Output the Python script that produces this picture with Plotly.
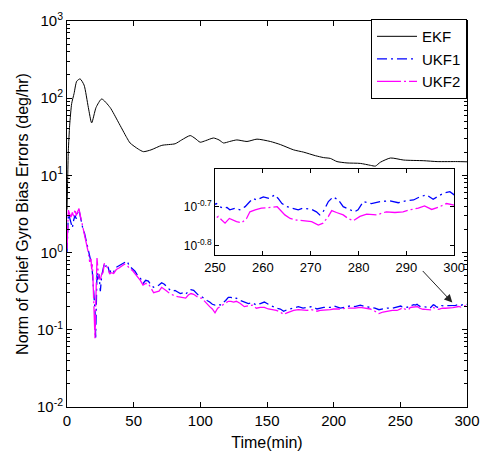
import plotly.graph_objects as go

# ---------------- data ----------------
ekf_t = [0, 0.5, 1, 2, 3.5, 5.3, 7.3, 9.8, 12.8, 16, 18.5, 21.8, 26, 32.3, 38.5, 44.8, 47.3,
         53.5, 57.3, 63, 71.1, 81.1, 86, 92.4, 96, 99.9, 104, 109.9, 114, 117.4, 122, 127.4,
         135, 142.5, 152.5, 160, 170, 177.5, 186.3, 192.5, 197.5, 202.5, 210, 220, 227.6,
         231.3, 235, 242.6, 252.6, 267.6, 277.6, 292.7, 300]
ekf_v = [3.6, 8.9, 20.9, 44.7, 85.1, 115, 166, 178, 148, 75.9, 47.9, 75.9, 97.7, 75.9, 49.0,
         30.9, 26.3, 21.9, 20.3, 21.4, 24.5, 25.7, 28.8, 32.8, 30.2, 26.9, 28.2, 30.5, 28.8,
         26.3, 27.5, 28.8, 27.5, 29.5, 27.5, 25.1, 21.4, 20.0, 18.0, 17.0, 16.6, 15.1, 14.5,
         14.3, 13.5, 13.2, 14.8, 16.8, 15.8, 15.5, 15.1, 15.1, 15.0]

ukf1_t = [0, 0.5, 1, 2, 3, 4, 5, 6, 7, 8, 9, 10, 11, 12, 13, 14, 15, 16, 17, 18, 19, 20, 21,
          21.5, 22, 22.5, 23, 24, 25, 26, 27, 28, 29, 30, 31, 32, 33, 35, 37, 39, 41, 43, 45,
          47, 49, 51, 53, 55, 57, 59, 61, 63, 65, 67, 69, 71, 73, 75, 77, 79, 81, 83, 85, 87,
          89, 91, 93, 95, 97, 99, 101, 103, 105, 107, 109, 111, 113, 115, 117, 119, 121, 123,
          125, 127, 130, 133, 136, 139, 142, 145, 148, 151, 154, 157, 160, 162.5, 165, 167.5,
          170, 173.5, 177, 180, 183.5, 187.5, 190, 192.5, 197.5, 200, 205, 210, 212.5, 216,
          220, 224, 227.5, 231, 234, 237, 240, 244, 247.5,
          250.3, 251, 251.7, 252.5, 253.1, 254.2, 255.2, 256.3, 257.3, 258, 258.7, 260.1,
          261.3, 262.5, 263.2, 264, 265, 266.4, 267.4, 268.4, 270.2, 271.2, 271.9, 272.6,
          273.7, 274.7, 275.8, 276.8, 278.2, 279.2, 279.9, 281, 282.7, 284.5, 286.5, 288.3,
          290, 291.5, 292.8, 294.2, 295.6, 297.7, 299.1, 300]
ukf1_v = [1.00, 2.24, 3.16, 2.82, 2.51, 2.09, 2.63, 3.02, 2.75, 3.31, 3.55, 2.82, 2.40, 2.00,
          1.82, 1.51, 1.32, 1.05, 0.832, 0.759, 0.562, 0.355, 0.178, 0.0794, 0.355, 0.562,
          0.447, 0.525, 0.316, 0.501, 0.603, 0.724, 0.661, 0.708, 0.631, 0.537, 0.603, 0.562,
          0.646, 0.676, 0.708, 0.759, 0.776, 0.661, 0.617, 0.575, 0.501, 0.468, 0.398, 0.437,
          0.427, 0.380, 0.355, 0.363, 0.380, 0.407, 0.389, 0.355, 0.331, 0.316, 0.324, 0.309,
          0.295, 0.302, 0.288, 0.316, 0.331, 0.324, 0.295, 0.275, 0.269, 0.251, 0.240, 0.229,
          0.214, 0.209, 0.214, 0.209, 0.221, 0.240, 0.263, 0.263, 0.251, 0.257, 0.240, 0.229,
          0.219, 0.224, 0.209, 0.219, 0.229, 0.214, 0.204, 0.1905, 0.186, 0.174, 0.182, 0.186,
          0.1905, 0.1995, 0.1905, 0.195, 0.1995, 0.186, 0.1905, 0.195, 0.195, 0.204, 0.1905,
          0.1995, 0.204, 0.1995, 0.209, 0.1995, 0.195, 0.1905, 0.182, 0.186, 0.1905, 0.1905,
          0.195,
          0.2032, 0.1995, 0.1977, 0.1986, 0.1959, 0.1977, 0.1959, 0.1995, 0.2056, 0.2094,
          0.2075, 0.2113, 0.2094, 0.2138, 0.2094, 0.2032, 0.1995, 0.1977, 0.1959, 0.1977,
          0.1963, 0.1936, 0.1901, 0.1936, 0.2056, 0.2113, 0.2075, 0.1995, 0.1959, 0.1936,
          0.1959, 0.2056, 0.2032, 0.2056, 0.2065, 0.2042, 0.2065, 0.2075, 0.2113, 0.2138,
          0.2084, 0.2158, 0.2178, 0.2138]

ukf2_t = [0, 0.5, 1, 2, 3, 4, 5, 6, 7, 8, 9, 10, 11, 12, 13, 14, 15, 16, 17, 18, 18.5, 19,
          19.5, 20, 20.5, 21, 21.5, 22, 22.5, 23, 24, 25, 26, 27, 28, 29, 30, 31, 32, 33, 35,
          37, 39, 41, 43, 45, 47, 49, 51, 53, 55, 57, 59, 61, 63, 65, 67, 69, 71, 73, 75, 77,
          79, 81, 83, 85, 87, 89, 91, 93, 95, 97, 99, 101, 103, 105, 107, 109, 111, 113, 115,
          117, 119, 121, 123, 125, 127, 130, 133, 136, 139, 142, 145, 148, 151, 154, 157, 160,
          162.5, 165, 167.5, 170, 173.5, 177, 180, 183.5, 187.5, 190, 192.5, 197.5, 200, 205,
          210, 212.5, 216, 220, 224, 227.5, 231, 234, 237, 240, 244, 247.5,
          250, 250.7, 251.4, 252.1, 253, 254.5, 255.6, 256.6, 257.3, 258.4, 259.7, 261.5, 263,
          264.6, 265.7, 267, 268.8, 270.2, 271.6, 272.6, 273.7, 274.4, 275.4, 276.8, 277.8,
          278.9, 280.3, 281.7, 283.8, 285.8, 287.6, 289.3, 290.7, 292.5, 293.8, 295.3, 296.6,
          298.4, 300]
ukf2_v = [1.12, 2.82, 3.55, 3.16, 2.88, 3.31, 2.95, 3.63, 3.02, 3.39, 3.72, 3.02, 2.51, 2.09,
          1.86, 1.59, 1.26, 1.00, 0.759, 0.832, 0.603, 0.708, 0.447, 0.282, 0.126, 0.0776,
          0.1995, 0.501, 0.851, 0.661, 0.468, 0.447, 0.525, 0.550, 0.724, 0.692, 0.661, 0.617,
          0.525, 0.550, 0.537, 0.603, 0.631, 0.676, 0.708, 0.692, 0.617, 0.589, 0.537, 0.479,
          0.437, 0.380, 0.398, 0.398, 0.339, 0.302, 0.309, 0.316, 0.355, 0.339, 0.316, 0.295,
          0.282, 0.275, 0.269, 0.263, 0.263, 0.257, 0.282, 0.295, 0.288, 0.269, 0.257, 0.257,
          0.234, 0.214, 0.1995, 0.186, 0.166, 0.1905, 0.1995, 0.209, 0.219, 0.234, 0.234,
          0.229, 0.234, 0.219, 0.1995, 0.204, 0.209, 0.1905, 0.195, 0.195, 0.186, 0.182, 0.178,
          0.170, 0.158, 0.166, 0.174, 0.178, 0.182, 0.178, 0.178, 0.182, 0.174, 0.178, 0.178,
          0.182, 0.186, 0.186, 0.1905, 0.1905, 0.1905, 0.195, 0.1905, 0.186, 0.174, 0.162,
          0.170, 0.174, 0.178, 0.178,
          0.1862, 0.1884, 0.1845, 0.1811, 0.1862, 0.1828, 0.1816, 0.1862, 0.1936, 0.1959,
          0.1977, 0.1986, 0.1995, 0.1901, 0.1862, 0.1845, 0.1837, 0.1828, 0.1791, 0.1811,
          0.1884, 0.1950, 0.1928, 0.1901, 0.1862, 0.1837, 0.1884, 0.1910, 0.1901, 0.1936,
          0.1928, 0.1936, 0.1959, 0.1977, 0.2004, 0.1963, 0.1986, 0.2032, 0.2014]

main_y_ticks = [0.01, 0.1, 1, 10, 100, 1000]
main_y_text = ["10<sup>-2</sup>", "10<sup>-1</sup>", "10<sup>0</sup>", "10<sup>1</sup>",
               "10<sup>2</sup>", "10<sup>3</sup>"]
inset_y_ticks = [0.158489, 0.199526]
inset_y_text = ["10<sup>-0.8</sup>", "10<sup>-0.7</sup>"]

FONT = "Liberation Sans, Arial, Helvetica, sans-serif"
BLUE = "#0000ff"
MAG = "#ff00ff"

fig = go.Figure()

for xa, ya, show in [("x", "y", True), ("x2", "y2", False)]:
    fig.add_trace(go.Scatter(x=ekf_t, y=ekf_v, name="EKF", mode="lines",
                             line=dict(color="black", width=1, shape="spline", smoothing=0.6),
                             xaxis=xa, yaxis=ya, showlegend=show))
    fig.add_trace(go.Scatter(x=ukf1_t, y=ukf1_v, name="UKF1", mode="lines",
                             line=dict(color=BLUE, width=1.3, dash="10px,4px,2px,4px"),
                             xaxis=xa, yaxis=ya, showlegend=show))
    fig.add_trace(go.Scatter(x=ukf2_t, y=ukf2_v, name="UKF2", mode="lines",
                             line=dict(color=MAG, width=1.3, dash="24px,3px,2px,3px"),
                             xaxis=xa, yaxis=ya, showlegend=show))

axis_common = dict(showline=True, linecolor="black", linewidth=1, mirror="ticks",
                   ticks="inside", tickcolor="black", showgrid=False, zeroline=False,
                   automargin=False)

fig.update_layout(
    width=480, height=457,
    margin=dict(l=67, r=13, t=21, b=50),
    paper_bgcolor="white", plot_bgcolor="white",
    font=dict(family=FONT, size=15, color="black"),
    xaxis=dict(range=[0, 300], dtick=50, tick0=0, ticklen=5,
               title=dict(text="Time(min)", standoff=8, font=dict(size=16)),
               tickfont=dict(size=15), **axis_common),
    yaxis=dict(type="log", range=[-2, 3], tickmode="array", tickvals=main_y_ticks,
               ticktext=main_y_text, ticklen=5,
               minor=dict(ticks="inside", ticklen=3, tickcolor="black", dtick="D1"),
               title=dict(text="Norm of Chief Gyro Bias Errors (deg/hr)", standoff=4,
                          font=dict(size=16)),
               tickfont=dict(size=15), **axis_common),
    xaxis2=dict(domain=[0.37, 0.968], anchor="y2", range=[250, 300], dtick=10, tick0=250,
                ticklen=4, tickfont=dict(size=13), **axis_common),
    yaxis2=dict(domain=[0.394, 0.6166], anchor="x2", type="log", range=[-0.823, -0.604],
                tickmode="array", tickvals=inset_y_ticks, ticktext=inset_y_text, ticklen=4,
                tickfont=dict(size=12), **axis_common),
    legend=dict(x=1, xanchor="right", y=1.005, yanchor="top", bgcolor="white",
                bordercolor="black", borderwidth=1, font=dict(size=15),
                tracegroupgap=0, itemwidth=40),
    showlegend=True,
)

fig.add_annotation(x=289, y=-0.646, xref="x", yref="y", ax=-31, ay=-33,
                   showarrow=True, arrowhead=2, arrowsize=1.6, arrowwidth=1,
                   arrowcolor="#222222", text="")

fig.write_html("out.html")
